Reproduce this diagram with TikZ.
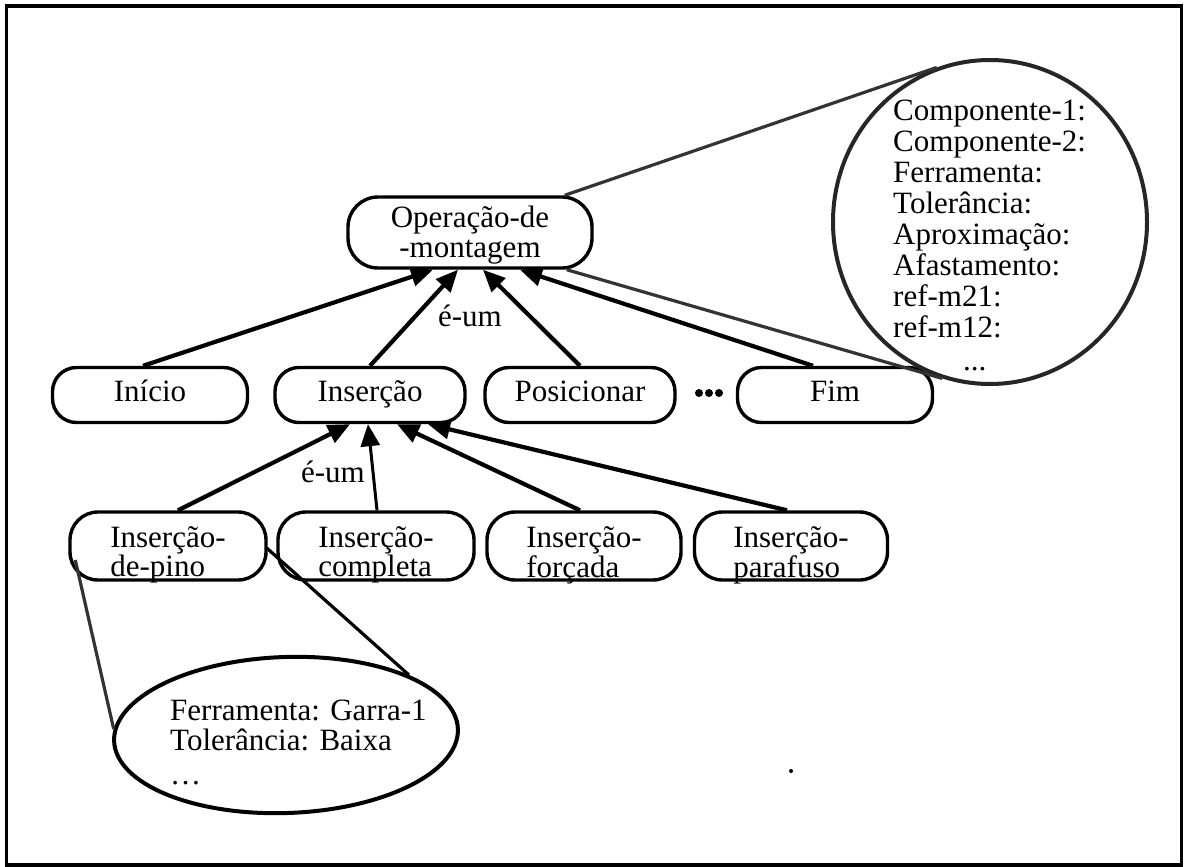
\documentclass[tikz,border=0pt]{standalone}
\usepackage{fontspec}
\setmainfont{Liberation Serif}
\usetikzlibrary{arrows.meta,shapes.geometric,calc}
% two-line label whose baseline is the first line
\newcommand{\twolines}[3]{\begin{tabular}[t]{@{}#1@{}}#2\\#3\end{tabular}}
\begin{document}
\begin{tikzpicture}[x=1pt,y=-1pt,
  txt/.style={font=\fontsize{31}{29}\selectfont, inner sep=0pt},
  pill/.style={txt, draw, line width=3.4pt},
  opbox/.style={pill, font=\fontsize{31}{30}\selectfont, rounded corners=30pt,
    minimum width=244pt, minimum height=71pt, text height=25pt, text depth=36pt},
  rowbox/.style={pill, rounded corners=24pt, minimum width=#1, minimum height=55pt,
    text height=26pt, text depth=14pt},
  leafbox/.style={pill, font=\fontsize{31}{28}\selectfont, rounded corners=28pt,
    minimum width=#1, minimum height=68pt, text height=34pt, text depth=32pt},
  isa/.style={line width=4.2pt, -{Triangle[length=22pt,width=19pt]}},
  zoomline/.style={line width=3.2pt, draw=black!80},
  slotset/.style={ellipse, draw=black!85, line width=4pt, inner sep=0pt}
]
\useasboundingbox (0,0) rectangle (1186,867);
\draw[line width=3.4pt] (6.5,6) rectangle (1181.5,865);

% hierarchy
\node[opbox] (op) at (470,232.5) {\twolines{c}{Operação-de}{-montagem}};

\node[rowbox=195pt] (inicio) at (150,395) {Início};
\node[rowbox=190pt] (ins)    at (370,395) {Inserção};
\node[rowbox=190pt] (pos)    at (580,395) {Posicionar};
\node[rowbox=195pt] (fim)    at (835,395) {Fim};
\foreach \x in {699,709,719} \fill (\x,393) circle (4pt);

\node[leafbox=196pt] (pino)  at (168,546) {\twolines{l}{Inserção-}{de-pino}};
\node[leafbox=196pt] (compl) at (376,546) {\twolines{l}{Inserção-}{completa}};
\node[leafbox=194pt] (forc)  at (584,546) {\twolines{l}{Inserção-}{forçada}};
\node[leafbox=193pt] (paraf) at (791,546) {\twolines{l}{Inserção-}{parafuso}};

% is-a links
\draw[isa] ($(inicio.north)+(-7,0)$) -- ($(op.south)+(-37,0)$);
\draw[isa] (ins.north) -- ($(op.south)+(-12,0)$);
\draw[isa] (pos.north) -- ($(op.south)+(13,0)$);
\draw[isa] ($(fim.north)+(-22,0)$) -- ($(op.south)+(50,0)$);
\node[txt, anchor=base] (isa1) at (470,326) {é-um};

\draw[isa] ($(pino.north)+(10,0)$) -- ($(ins.south)+(-20,0)$);
\draw[isa, line width=3pt] ($(compl.north)+(1,0)$) -- ($(ins.south)+(-2,0)$);
\draw[isa] ($(forc.north)+(-4,0)$) -- ($(ins.south)+(27,0)$);
\draw[isa] ($(paraf.north)+(-4,0)$) -- ($(ins.south)+(58,0)$);
\node[txt, anchor=base] (isa2) at (333,482) {é-um};

% slot list of the assembly operation
\node[slotset, minimum width=314pt, minimum height=324pt] (attrs) at (990,222) {};
\foreach \t [count=\i] in {Componente-1:,Componente-2:,Ferramenta:,Tolerância:,Aproximação:,Afastamento:,ref-m21:,ref-m12:}
  \node[txt, anchor=base west] (attr\i) at (893,{120+31*(\i-1)}) {\t};
\node[txt, anchor=base west] (attrmore) at (963,370) {...};
\draw[zoomline] ($(op.north east)+(-29,0)$) -- (attrs.109);
\draw[zoomline] ($(op.south east)+(-27,0)$) -- (attrs.253);

% slot values of the pin insertion
\node[slotset, draw=black, minimum width=344pt, minimum height=156pt, rotate=2] (pinoattrs) at (286,735) {};
\node[txt, anchor=base west] (tool) at (170,720) {Ferramenta: Garra-1};
\node[txt, anchor=base west] (tol)  at (170,750) {Tolerância: Baixa};
\node[txt, anchor=base west] (more) at (170,784) {\ldots};
\draw[zoomline] ($(pino.west)+(7,14)$) -- (pinoattrs.176);
\draw[zoomline, draw=black] ($(pino.east)+(-1,2)$) -- (pinoattrs.24);

\fill (791,771) circle (2pt);
\end{tikzpicture}
\end{document}
